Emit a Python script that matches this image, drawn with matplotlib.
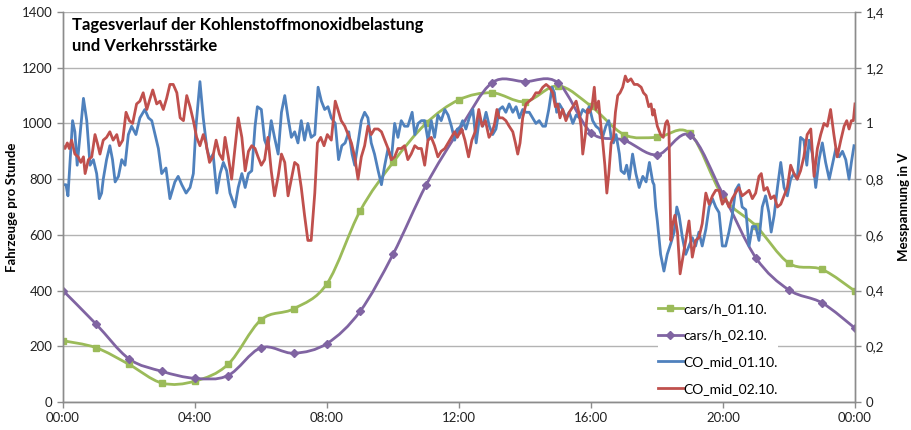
import matplotlib
matplotlib.use("Agg")
import matplotlib.pyplot as plt
from matplotlib.path import Path
from matplotlib.patches import PathPatch
from matplotlib.lines import Line2D
from matplotlib.ticker import FuncFormatter

# hourly traffic counts (vehicles per hour)
hours = list(range(25))
cars_0110 = [220, 195, 135, 68, 75, 135, 295, 335, 425, 685, 860, 1000, 1085,
             1110, 1078, 1135, 1062, 960, 950, 964, 737, 632, 498, 476, 398]
cars_0210 = [400, 280, 155, 110, 85, 95, 195, 175, 210, 325, 530, 778, 975,
             1146, 1150, 1146, 967, 940, 887, 958, 745, 517, 402, 356, 265]

# CO sensor voltage, 01.10. (time in hours, value in V)
co_0110_t = [0.00, 0.09, 0.15, 0.29, 0.36, 0.43, 0.62, 0.72, 0.82, 0.92, 1.02, 1.10, 1.17, 1.22,
             1.32, 1.42, 1.50, 1.58, 1.68, 1.78, 1.88, 1.98, 2.08, 2.21, 2.33, 2.48, 2.59, 2.69,
             2.79, 2.89, 2.99, 3.12, 3.24, 3.39, 3.49, 3.60, 3.73, 3.85, 3.95, 4.03, 4.15, 4.25,
             4.36, 4.45, 4.55, 4.66, 4.76, 4.86, 4.96, 5.06, 5.21, 5.31, 5.42, 5.52, 5.62, 5.72,
             5.82, 5.89, 6.01, 6.11, 6.21, 6.31, 6.41, 6.52, 6.62, 6.72, 6.82, 6.92, 7.02, 7.12,
             7.22, 7.32, 7.42, 7.52, 7.63, 7.73, 7.83, 7.93, 8.03, 8.13, 8.25, 8.35, 8.45, 8.55,
             8.66, 8.76, 8.84, 8.94, 9.04, 9.14, 9.24, 9.34, 9.44, 9.55, 9.65, 9.75, 9.85, 9.95,
             10.05, 10.15, 10.25, 10.35, 10.45, 10.58, 10.66, 10.76, 10.86, 10.96, 11.06, 11.16,
             11.26, 11.36, 11.46, 11.57, 11.67, 11.77, 11.87, 11.95, 12.01, 12.11, 12.21, 12.31,
             12.42, 12.52, 12.62, 12.72, 12.82, 12.92, 13.02, 13.12, 13.22, 13.32, 13.42, 13.52,
             13.63, 13.73, 13.83, 13.93, 14.03, 14.13, 14.23, 14.33, 14.43, 14.54, 14.62, 14.72,
             14.82, 14.89, 14.96, 15.04, 15.14, 15.24, 15.34, 15.45, 15.55, 15.65, 15.75, 15.85,
             15.95, 16.05, 16.15, 16.25, 16.35, 16.45, 16.54, 16.61, 16.68, 16.76, 16.86, 16.91,
             17.01, 17.08, 17.16, 17.26, 17.36, 17.46, 17.57, 17.67, 17.77, 17.87, 17.91, 17.96,
             18.01, 18.11, 18.21, 18.31, 18.42, 18.52, 18.60, 18.67, 18.77, 18.87, 18.97, 19.07,
             19.17, 19.27, 19.37, 19.48, 19.58, 19.68, 19.78, 19.88, 19.98, 20.08, 20.18, 20.28,
             20.38, 20.48, 20.58, 20.69, 20.79, 20.89, 20.99, 21.09, 21.19, 21.29, 21.39, 21.46,
             21.55, 21.65, 21.75, 21.85, 21.95, 22.05, 22.15, 22.25, 22.35, 22.45, 22.54, 22.61,
             22.71, 22.81, 22.91, 23.01, 23.11, 23.22, 23.31, 23.42, 23.52, 23.62, 23.72, 23.82,
             23.89, 23.97]
co_0110_v = [0.78, 0.78, 0.74, 1.01, 0.97, 0.85, 1.09, 1.01, 0.85, 0.87, 0.82, 0.73, 0.75, 0.80,
             0.87, 0.92, 0.87, 0.79, 0.81, 0.87, 0.85, 0.96, 0.99, 0.96, 1.02, 1.05, 1.02, 1.01,
             0.96, 0.91, 0.82, 0.84, 0.73, 0.79, 0.81, 0.78, 0.75, 0.77, 0.82, 0.99, 1.15, 1.02,
             0.91, 0.87, 0.89, 0.75, 0.82, 0.86, 0.83, 0.75, 0.70, 0.77, 0.82, 0.77, 0.82, 0.83,
             0.99, 1.06, 1.05, 0.94, 0.91, 1.01, 0.95, 0.89, 1.04, 1.10, 1.02, 0.95, 0.97, 0.93,
             1.01, 0.94, 1.00, 0.95, 0.96, 1.13, 1.08, 1.05, 1.06, 1.02, 1.00, 0.87, 0.92, 0.93,
             0.97, 0.89, 0.85, 0.93, 1.01, 1.04, 1.02, 0.93, 0.89, 0.83, 0.78, 0.85, 0.91, 0.87,
             1.00, 0.95, 1.01, 0.99, 0.99, 1.04, 0.96, 1.00, 1.01, 1.01, 0.94, 1.01,
             0.95, 1.03, 1.01, 1.05, 1.03, 0.99, 0.94, 0.98, 0.98, 1.01, 0.98, 1.02,
             1.05, 0.93, 1.02, 0.99, 1.04, 0.99, 0.96, 0.98, 1.05, 1.06, 1.04, 1.07,
             1.04, 1.06, 1.02, 1.05, 1.04, 1.04, 1.02, 1.00, 1.01, 0.99, 0.99, 1.05,
             1.13, 1.11, 1.04, 1.07, 1.05, 1.02, 1.04, 1.00, 1.03, 1.02, 1.05, 1.04,
             1.06, 1.01, 0.99, 0.98, 0.95, 0.99, 1.01, 0.95, 0.93, 0.96, 0.89, 0.83,
             0.82, 0.85, 0.80, 0.89, 0.82, 0.77, 0.81, 0.79, 0.86, 0.79, 0.78, 0.70,
             0.65, 0.53, 0.47, 0.53, 0.57, 0.61, 0.70, 0.67, 0.59, 0.53, 0.56, 0.59,
             0.56, 0.61, 0.56, 0.62, 0.70, 0.73, 0.70, 0.68, 0.56, 0.56, 0.61, 0.67,
             0.76, 0.78, 0.70, 0.69, 0.56, 0.63, 0.63, 0.58, 0.70, 0.74, 0.68, 0.61,
             0.67, 0.77, 0.86, 0.77, 0.74, 0.80, 0.82, 0.80, 0.95, 0.94, 0.85, 0.94,
             0.89, 0.77, 0.87, 0.93, 0.86, 0.80, 0.85, 0.91, 0.88, 0.90, 0.87, 0.80,
             0.86, 0.92]

# CO sensor voltage, 02.10.
co_0210_t = [0.00, 0.06, 0.13, 0.19, 0.26, 0.36, 0.46, 0.54, 0.62, 0.67, 0.77, 0.87, 0.97, 1.04,
             1.12, 1.22, 1.32, 1.42, 1.52, 1.63, 1.71, 1.81, 1.91, 2.01, 2.11, 2.23, 2.33, 2.43,
             2.54, 2.64, 2.72, 2.84, 2.94, 3.04, 3.14, 3.24, 3.34, 3.45, 3.55, 3.65, 3.75, 3.85,
             3.95, 4.05, 4.15, 4.25, 4.33, 4.44, 4.54, 4.64, 4.74, 4.84, 4.91, 5.01, 5.11, 5.21,
             5.31, 5.42, 5.52, 5.62, 5.72, 5.82, 5.91, 6.01, 6.11, 6.21, 6.31, 6.41, 6.52, 6.62,
             6.72, 6.82, 6.92, 7.02, 7.12, 7.22, 7.32, 7.42, 7.52, 7.63, 7.71, 7.81, 7.91, 8.01,
             8.13, 8.25, 8.33, 8.43, 8.54, 8.64, 8.74, 8.84, 8.94, 9.04, 9.14, 9.24, 9.34, 9.44,
             9.55, 9.65, 9.75, 9.85, 9.95, 10.05, 10.15, 10.25, 10.35, 10.45, 10.55, 10.66, 10.76,
             10.86, 10.96, 11.06, 11.16, 11.26, 11.36, 11.46, 11.57, 11.67, 11.77, 11.87, 11.95,
             12.08, 12.18, 12.29, 12.39, 12.49, 12.60, 12.70, 12.80, 12.91, 13.01, 13.08, 13.15,
             13.22, 13.32, 13.42, 13.52, 13.63, 13.71, 13.78, 13.85, 13.93, 14.03, 14.13, 14.23,
             14.33, 14.43, 14.54, 14.64, 14.74, 14.84, 14.92, 14.99, 15.06, 15.14, 15.24, 15.34,
             15.45, 15.55, 15.63, 15.70, 15.75, 15.83, 15.90, 15.95, 16.03, 16.10, 16.15, 16.23,
             16.30, 16.35, 16.42, 16.48, 16.54, 16.61, 16.68, 16.74, 16.81, 16.88, 16.96, 17.04,
             17.11, 17.21, 17.31, 17.41, 17.52, 17.59, 17.67, 17.75, 17.82, 17.87, 17.91, 18.01,
             18.11, 18.19, 18.26, 18.31, 18.36, 18.42, 18.46, 18.54, 18.62, 18.70, 18.77, 18.87,
             18.97, 19.07, 19.17, 19.27, 19.37, 19.48, 19.58, 19.68, 19.78, 19.88, 19.98, 20.08,
             20.18, 20.28, 20.38, 20.48, 20.58, 20.69, 20.79, 20.89, 20.99, 21.09, 21.16, 21.24,
             21.34, 21.45, 21.55, 21.65, 21.75, 21.85, 21.95, 22.05, 22.15, 22.25, 22.35, 22.45,
             22.55, 22.66, 22.76, 22.86, 22.96, 23.06, 23.16, 23.26, 23.36, 23.46, 23.57, 23.67,
             23.75, 23.82, 23.89, 23.95, 24.00]
co_0210_v = [0.92, 0.91, 0.93, 0.91, 0.94, 0.89, 0.88, 0.86, 0.88, 0.82, 0.87, 0.88, 0.96, 0.93,
             0.89, 0.94, 0.95, 0.97, 0.94, 0.96, 0.92, 0.94, 1.04, 1.01, 1.00, 1.07, 1.08, 1.11,
             1.05, 1.09, 1.12, 1.07, 1.08, 1.05, 1.09, 1.14, 1.14, 1.11, 1.02, 1.01, 1.10, 1.06,
             1.01, 0.95, 0.92, 0.96, 0.93, 0.86, 0.88, 0.94, 0.89, 0.87, 0.95, 0.88, 0.80, 0.91,
             1.02, 0.95, 0.83, 0.90, 0.92, 0.91, 0.88, 0.85, 0.87, 0.95, 0.83, 0.74, 0.81, 0.89,
             0.86, 0.74, 0.80, 0.86, 0.85, 0.77, 0.67, 0.58, 0.58, 0.75, 0.93, 0.95, 0.92, 0.96,
             0.94, 1.08, 1.05, 1.01, 0.99, 0.96, 0.93, 0.88, 0.80, 0.88, 0.92, 0.99, 0.96, 0.98,
             0.98, 0.97, 0.94, 0.91, 0.87, 0.88, 0.91, 0.91, 0.92, 0.87, 0.89, 0.92, 0.91,
             0.91, 0.85, 0.94, 0.95, 0.92, 0.88, 0.90, 0.91, 0.93, 0.95, 0.97, 0.95,
             0.98, 0.94, 0.88, 0.94, 0.97, 1.05, 0.99, 1.01, 0.95, 0.97, 1.00, 1.05,
             1.02, 1.02, 1.01, 0.99, 0.97, 0.93, 0.89, 0.93, 1.02, 1.07, 1.08, 1.09,
             1.11, 1.11, 1.13, 1.14, 1.13, 1.11, 1.06, 1.07, 1.02, 1.05, 1.01, 1.04,
             1.06, 1.08, 1.04, 0.99, 0.89, 0.96, 1.05, 1.04, 1.06, 1.13, 1.05, 1.08,
             0.99, 0.94, 0.85, 0.75, 0.82, 0.93, 0.95, 1.04, 1.10, 1.11, 1.13, 1.17,
             1.15, 1.16, 1.14, 1.14, 1.13, 1.11, 1.10, 1.06, 1.07, 1.03, 1.05, 0.99,
             0.96, 0.95, 1.00, 1.01, 0.99, 0.58, 0.63, 0.67, 0.61, 0.46, 0.51, 0.58,
             0.65, 0.52, 0.58, 0.59, 0.64, 0.75, 0.71, 0.74, 0.76, 0.76, 0.71, 0.73,
             0.70, 0.73, 0.75, 0.77, 0.74, 0.75, 0.76, 0.73, 0.75, 0.81, 0.82, 0.76,
             0.77, 0.73, 0.74, 0.70, 0.71, 0.74, 0.77, 0.85, 0.82, 0.80, 0.83, 0.88,
             0.96, 0.98, 0.81, 0.91, 0.96, 1.00, 0.99, 1.05, 0.96, 0.88, 0.94, 0.99,
             1.01, 0.98, 1.01, 1.01, 1.07]

xtick_pos = [0, 4, 8, 12, 16, 20, 24]
xtick_labels = ["00:00", "04:00", "08:00", "12:00", "16:00", "20:00", "00:00"]

GREEN = "#9bbb59"
PURPLE = "#8064a2"
BLUE = "#4f81bd"
RED = "#c0504d"
GRID = "#b3b3b3"
AXIS = "#8c8c8c"
FONT = "Lato"


def smooth_path(x, y):
    # Bezier path through the points, similar to the smoothed lines of office charts
    pts = list(zip(x, y))
    verts = [pts[0]]
    codes = [Path.MOVETO]
    n = len(pts)
    for i in range(n - 1):
        p0 = pts[max(i - 1, 0)]
        p1 = pts[i]
        p2 = pts[i + 1]
        p3 = pts[min(i + 2, n - 1)]
        c1 = (p1[0] + (p2[0] - p0[0]) / 6, p1[1] + (p2[1] - p0[1]) / 6)
        c2 = (p2[0] - (p3[0] - p1[0]) / 6, p2[1] - (p3[1] - p1[1]) / 6)
        verts += [c1, c2, p2]
        codes += [Path.CURVE4] * 3
    return Path(verts, codes)


fig = plt.figure(figsize=(9.12, 4.30), dpi=100)
ax = fig.add_axes([63 / 912, 28 / 430, 792 / 912, 390 / 430])
ax2 = ax.twinx()

# traffic counts on the left axis
for data, color, marker, ms in ((cars_0110, GREEN, "s", 5), (cars_0210, PURPLE, "D", 4)):
    ax.add_patch(PathPatch(smooth_path(hours, data), fill=False, edgecolor=color,
                           lw=2, capstyle="round", joinstyle="round"))
    ax.plot(hours, data, linestyle="none", marker=marker, markersize=ms, color=color)

# CO voltage on the right axis
ax2.plot(co_0110_t, co_0110_v, color=BLUE, lw=2)
ax2.plot(co_0210_t, co_0210_v, color=RED, lw=2)

ax.set_xlim(0, 24)
ax.set_ylim(0, 1400)
ax2.set_ylim(0, 1.4)
ax.set_xticks(xtick_pos)
ax.set_xticklabels(xtick_labels)
ax.set_yticks(range(0, 1401, 200))
ax2.set_yticks([0, 0.2, 0.4, 0.6, 0.8, 1.0, 1.2, 1.4])
ax2.yaxis.set_major_formatter(FuncFormatter(lambda v, p: f"{v:g}".replace(".", ",")))

ax.grid(axis="y", color=GRID, lw=1)
ax.set_axisbelow(True)
for a in (ax, ax2):
    a.spines["top"].set_visible(False)
    for s in ("left", "right", "bottom"):
        a.spines[s].set_color(AXIS)
        a.spines[s].set_linewidth(1)
    a.tick_params(colors=AXIS, length=4, width=1, labelsize=9.5, labelcolor="#222222")
    for lab in a.get_xticklabels() + a.get_yticklabels():
        lab.set_fontfamily(FONT)

ax.set_ylabel("Fahrzeuge pro Stunde", fontfamily=FONT, fontweight="bold", fontsize=9.5, labelpad=3)
ax2.set_ylabel("Messpannung in V", fontfamily=FONT, fontweight="bold", fontsize=9.5,
               rotation=90, labelpad=10)

ax.text(0.011, 0.988, "Tagesverlauf der Kohlenstoffmonoxidbelastung\nund Verkehrsstärke",
        transform=ax.transAxes, ha="left", va="top", fontfamily=FONT, fontweight="bold",
        fontsize=12, linespacing=1.4)

handles = [
    Line2D([], [], color=GREEN, lw=2, marker="s", markersize=5),
    Line2D([], [], color=PURPLE, lw=2, marker="D", markersize=4),
    Line2D([], [], color=BLUE, lw=2),
    Line2D([], [], color=RED, lw=2),
]
labels = ["cars/h_01.10.", "cars/h_02.10.", "CO_mid_01.10.", "CO_mid_02.10."]
leg = ax2.legend(handles, labels, loc="lower left", bbox_to_anchor=(0.742, 0.001),
                 frameon=True, fancybox=False, edgecolor="none", facecolor="white",
                 framealpha=1, prop={"family": FONT, "size": 10}, handlelength=1.8,
                 handletextpad=0.05, labelspacing=1.05, borderpad=0.0)

fig.savefig("out.png", dpi=100)
